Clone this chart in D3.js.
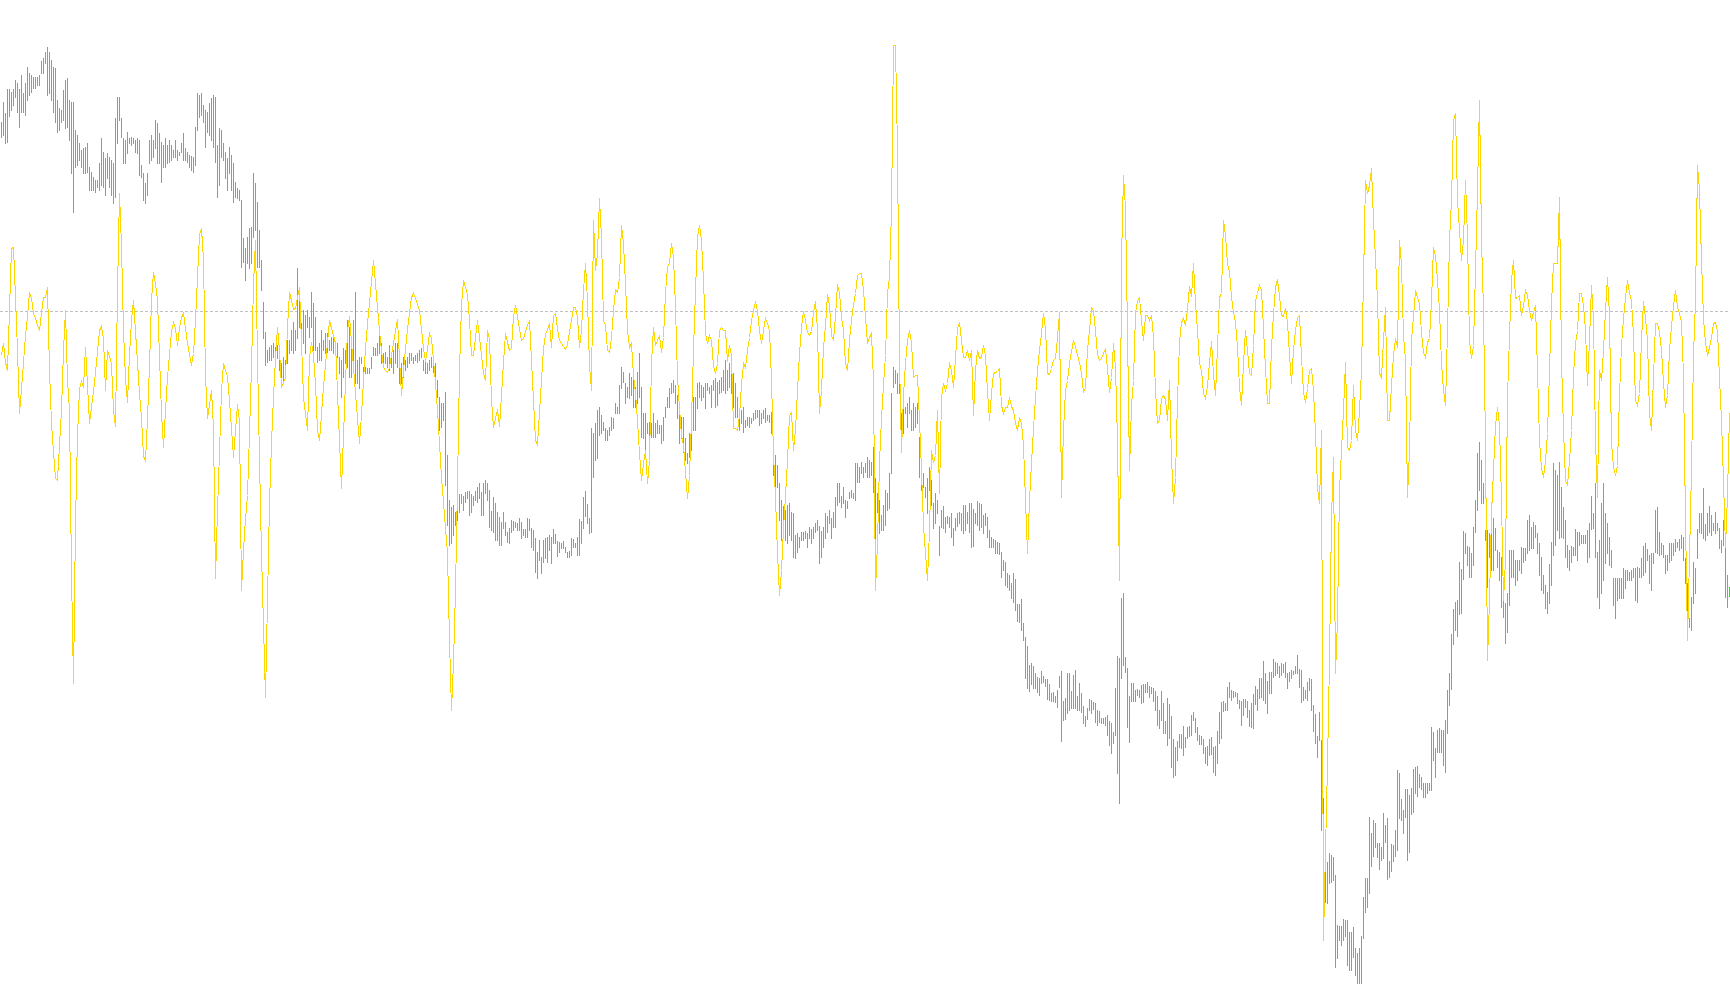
<!DOCTYPE html>
<html><head><meta charset="utf-8">
<script src="https://cdn.jsdelivr.net/npm/d3@7"></script>
<style>html,body{margin:0;padding:0;background:#fff;overflow:hidden}</style>
</head><body>
<svg id="chart" width="1730" height="1005"></svg>
<script>
// Price bars (high / low), one per bar
const high = [
878,898,887,911,911,908,911,920,917,911,925,907,917,933,927,925,923,923,923,925,
939,942,948,953,948,940,933,932,900,892,890,910,920,922,900,898,898,870,865,857,
850,852,853,857,833,828,823,820,820,837,862,848,842,847,843,840,837,882,903,903,
882,862,860,868,862,863,862,860,862,860,835,827,817,827,860,865,860,880,877,867,
858,855,862,855,860,855,850,860,850,848,857,867,852,848,845,844,843,873,907,905,
907,895,890,888,897,902,905,903,855,872,870,857,848,842,853,845,837,818,812,810,
800,762,752,763,772,773,827,817,798,770,740,698,668,650,653,655,657,653,655,643,
637,643,640,660,660,670,678,670,732,710,677,690,685,690,683,708,697,683,653,657,
670,660,667,667,660,663,663,657,657,643,640,652,650,680,673,663,680,708,640,643,
643,633,633,632,632,643,653,652,657,667,657,647,648,643,655,643,650,657,657,647,
637,643,640,643,647,647,643,645,647,650,652,640,640,637,640,643,637,637,620,603,
597,597,608,545,500,493,495,488,492,506,506,504,508,509,509,506,504,509,513,517,
508,517,520,517,510,489,503,497,488,483,478,488,478,468,472,480,479,478,477,482,
478,471,471,482,481,472,470,462,448,460,443,460,462,463,465,463,471,466,459,458,
457,459,453,448,449,462,461,457,463,481,479,503,509,496,482,572,567,577,590,593,
585,578,572,570,573,583,582,597,593,615,633,628,617,613,627,623,620,613,628,647,
613,587,587,577,578,577,587,577,580,575,575,583,593,603,612,617,620,615,605,585,
583,583,562,547,567,593,603,603,617,618,615,613,617,617,613,615,620,622,618,620,
623,630,640,630,637,640,627,617,603,587,590,593,580,583,583,582,587,590,590,590,
587,590,592,585,585,588,557,545,535,517,500,494,490,495,497,488,487,465,467,463,
468,468,469,467,473,471,473,477,480,474,469,473,487,484,490,482,488,503,517,517,
504,513,500,499,508,510,507,537,537,533,538,533,537,543,540,538,553,522,507,500,
485,495,510,507,527,607,633,630,627,637,587,593,593,597,603,590,597,593,597,563,
540,527,513,522,533,520,497,507,500,474,490,494,483,484,483,487,472,482,487,488,
487,495,495,488,497,497,491,487,499,497,496,485,487,483,470,463,461,460,458,457,
448,440,438,427,425,417,427,421,396,396,401,377,363,354,335,337,334,327,323,322,
329,324,321,321,316,307,308,304,310,324,329,299,302,327,327,309,325,330,304,317,
307,294,284,292,301,300,298,297,290,289,282,282,283,285,279,277,268,312,344,342,
402,407,343,332,304,317,317,310,311,310,315,316,316,318,314,313,312,309,304,290,
309,297,279,302,296,284,261,253,259,266,266,274,263,273,274,285,288,282,273,265,
264,261,253,254,261,263,253,254,269,288,298,299,297,313,318,310,309,308,307,300,
299,301,301,299,290,297,306,314,311,322,322,339,327,319,328,328,341,338,337,334,
337,336,338,327,328,330,329,334,345,331,330,313,310,318,322,321,295,286,264,288,
260,202,140,138,147,145,143,125,75,74,74,81,80,80,68,68,73,52,47,52,
64,103,122,122,183,167,180,177,157,157,153,187,175,182,139,156,155,170,230,227,
201,190,211,211,205,212,231,233,234,226,223,217,217,217,217,273,268,252,270,272,
270,270,280,310,327,366,391,398,400,438,431,469,467,454,453,447,473,500,547,558,
540,517,470,470,467,468,482,472,450,448,443,408,397,407,450,450,450,440,440,440,
453,452,452,480,485,473,478,475,467,457,443,425,415,408,436,458,537,530,525,538,
513,493,480,455,450,454,453,471,468,468,465,465,465,470,477,504,487,517,448,460,
497,517,487,477,463,450,422,422,422,422,422,432,430,430,428,430,432,432,433,432,
442,454,457,451,445,447,447,490,493,468,457,455,445,445,457,457,457,461,458,461,
465,463,442,417,382,403,438,432,471,487,487,512,476,487,494,485,477,488,477,472,
460,480,453,425,413];
const low = [
863,865,857,858,884,890,895,903,888,873,888,888,885,900,905,908,912,912,915,915,
927,927,937,905,907,900,888,878,868,870,878,880,872,873,860,827,788,833,835,840,
833,827,827,828,810,810,810,808,813,810,815,813,805,822,813,805,797,803,857,880,
863,837,837,847,857,855,857,848,847,825,823,800,797,805,837,840,843,852,837,837,
818,833,833,837,838,840,843,843,840,845,848,840,840,838,833,830,828,835,870,883,
885,878,853,868,865,860,853,838,803,815,843,840,822,810,827,810,798,803,802,800,
733,738,720,737,732,737,763,770,733,733,710,662,635,638,640,640,643,640,642,630,
623,620,630,637,647,650,647,650,662,673,660,657,647,673,663,673,650,650,638,640,
640,650,647,648,650,650,647,650,643,627,603,623,637,633,623,623,627,617,617,612,
637,622,627,627,627,632,645,645,645,647,637,637,637,633,630,633,627,637,633,617,
617,623,630,633,637,640,637,640,638,640,643,630,627,627,630,633,628,623,603,570,
573,580,515,475,455,457,465,475,480,488,497,490,498,502,485,488,495,500,498,502,
485,485,507,500,473,470,468,460,460,455,455,472,465,458,457,468,470,473,470,470,
462,465,463,463,470,453,450,428,422,440,427,438,442,438,450,437,457,457,444,448,
452,452,448,443,443,445,453,453,445,445,457,472,484,477,467,468,523,540,542,565,
567,570,560,560,565,570,572,587,587,587,612,618,597,603,602,605,593,593,597,603,
563,562,548,567,562,563,563,563,567,567,557,560,583,593,593,607,608,597,582,557,
562,548,540,537,543,550,570,570,592,603,600,603,592,610,607,593,610,593,595,607,
608,610,607,610,613,607,593,583,583,570,577,568,573,575,573,577,580,582,583,575,
577,582,578,580,578,567,525,510,513,480,460,465,460,457,465,460,443,442,448,453,
460,460,462,453,462,457,462,468,470,437,443,453,462,468,477,462,473,473,495,498,
493,497,483,492,502,503,502,500,518,518,527,523,528,523,523,525,508,457,488,467,
470,470,475,490,492,527,613,617,607,607,565,567,587,573,587,570,570,573,577,523,
510,513,503,487,510,495,472,477,487,445,473,472,468,477,473,463,455,470,474,477,
470,467,470,477,468,453,454,477,475,470,473,467,475,463,453,453,453,447,447,446,
423,430,415,413,410,402,398,390,379,378,370,360,322,312,309,316,312,312,308,305,
317,318,314,301,300,299,299,298,293,313,259,280,281,287,290,292,292,292,290,290,
288,277,274,281,290,287,291,278,275,278,277,277,275,265,255,247,257,265,227,197,
322,335,328,273,258,299,299,299,305,303,297,298,308,308,303,307,299,290,275,272,
280,267,267,255,262,233,223,225,240,253,252,245,253,262,264,265,280,268,260,256,
256,247,237,235,245,246,228,225,237,257,262,289,290,290,303,300,303,304,297,292,
275,285,293,283,274,273,272,296,290,302,303,300,297,287,307,307,323,325,327,323,
325,328,323,312,319,322,326,327,327,313,298,300,302,300,310,290,269,257,243,260,
170,112,98,97,117,118,120,33,42,60,55,60,64,35,30,30,43,25,17,17,
17,62,88,93,107,134,144,153,143,131,140,142,158,121,123,129,139,144,150,182,
180,167,183,140,148,186,188,207,204,213,211,203,203,207,210,210,240,223,248,248,
248,235,228,267,295,311,356,370,364,386,387,421,447,435,423,423,435,468,490,510,
497,497,460,413,443,430,430,450,433,420,393,383,357,368,395,423,423,415,420,430,
427,438,440,447,450,452,452,463,447,425,410,407,392,387,397,415,445,455,470,462,
463,462,443,433,430,438,445,445,440,455,457,457,457,438,443,471,472,443,403,392,
407,420,437,447,435,433,395,382,400,402,402,402,412,420,420,420,423,400,398,423,
423,425,428,440,417,410,437,448,447,445,446,443,427,430,438,440,445,449,453,450,
452,440,417,370,373,370,397,407,442,468,467,462,460,465,468,465,470,467,470,452,
448,455,403,393,404];
// Oscillator values (0 = reference level)
const osc = [
-44,-32,-51,-59,1,63,64,14,-39,-102,-77,-51,-24,-5,19,13,-2,-7,-14,-19,
-1,14,14,24,-59,-112,-141,-167,-169,-134,-99,-39,1,-69,-99,-262,-372,-211,-125,-77,
-70,-76,-36,-74,-112,-96,-80,-61,-40,-19,-15,-27,-79,-39,-45,-52,-99,-115,21,118,
66,-19,-67,-91,-43,-9,11,-20,-51,-82,-107,-145,-149,-107,-54,11,39,28,11,-45,
-102,-136,-99,-66,-43,-20,-11,-17,-34,-16,-6,-2,-17,-32,-43,-54,-42,-9,34,77,
83,52,-65,-107,-93,-79,-117,-267,-199,-141,-79,-52,-59,-65,-89,-117,-146,-119,-93,-109,
-279,-239,-207,-184,-122,-56,27,71,-46,-149,-242,-314,-386,-289,-192,-132,-85,-48,-16,-39,
-76,-71,-66,-16,19,11,2,3,14,24,-31,-86,-102,-119,-47,-31,-44,-72,-119,-129,
-103,-75,-53,-31,-9,-17,-24,-32,-81,-129,-177,-124,-71,-19,-5,-31,-56,-82,-107,-132,
-103,-69,-37,-12,9,30,51,28,4,-19,-39,-56,-59,-61,-56,-44,-32,-20,-8,-47,
-84,-59,-37,-18,-2,14,18,13,7,1,-18,-37,-50,-37,-22,-27,-49,-71,-99,-132,
-166,-191,-217,-242,-329,-399,-351,-279,-174,-59,6,31,24,17,-9,-44,-44,-26,-9,-26,
-44,-62,-69,-19,-27,-89,-116,-107,-98,-115,-84,-51,-22,-31,-39,-37,-5,6,-5,-17,
-29,-27,-20,-14,-9,-49,-89,-129,-133,-101,-69,-37,-23,-18,-12,-36,-4,-2,-17,-29,
-32,-35,-38,-33,-21,-9,4,4,-6,-36,-19,21,48,11,-54,-79,91,41,58,113,
74,-9,-14,-39,-41,-26,1,22,19,34,86,68,28,-19,-36,-32,-64,-82,-109,-142,
-169,-152,-139,-172,-149,-52,-16,-34,-29,-24,-41,-26,18,45,48,68,54,4,-66,-97,
-124,-134,-161,-187,-164,-109,-39,21,74,86,71,31,-22,-32,-24,-29,-55,-62,-52,-19,
-16,-19,-19,-50,-34,-44,-117,-117,-119,-104,-73,-52,-56,-39,-26,-9,1,10,0,-19,
-32,-19,-7,-12,-19,-69,-142,-186,-242,-284,-259,-217,-185,-149,-104,-101,-139,-119,-79,-42,
-16,0,-9,-21,-24,-20,-1,10,-19,-102,-79,-36,-14,17,6,-24,-29,-5,27,19,
-6,-19,-52,-59,-29,-9,7,18,36,38,38,21,-6,-32,-26,-22,-69,-279,-232,-151,
-107,-73,-44,18,34,101,266,266,161,-49,-141,-84,-52,-29,-19,-32,-66,-64,-64,-109,
-159,-214,-242,-269,-219,-139,-151,-144,-99,-182,-86,-72,-79,-72,-51,-59,-76,-46,-17,-11,
-29,-46,-46,-39,-49,-39,-104,-59,-39,-47,-46,-34,-44,-80,-109,-82,-62,-61,-60,-57,
-94,-102,-96,-96,-86,-95,-99,-112,-119,-106,-112,-134,-189,-242,-189,-152,-117,-86,-59,-39,
-22,-2,-17,-62,-63,-57,-49,-47,-26,-1,-186,-119,-79,-69,-52,-40,-29,-35,-44,-51,
-62,-81,-76,-39,-19,4,1,-19,-43,-49,-47,-42,-37,-57,-81,-66,-32,-56,-129,-269,
51,136,103,-19,-159,-94,-69,-2,11,14,-9,-29,-4,-4,-9,-4,-26,-79,-112,-109,
-87,-84,-88,-109,-69,-146,-192,-166,-89,-31,-11,-7,-14,3,25,15,48,8,-19,-52,
-59,-82,-87,-74,-51,-30,-63,-84,-36,14,18,91,76,48,40,14,-1,-11,-35,-76,
-94,-52,-19,-39,-62,-64,-34,11,18,26,21,-17,-57,-92,-92,-36,-3,24,32,16,
-4,-5,3,-11,-43,-72,-39,-19,-6,-4,-46,-81,-91,-77,-59,-57,-79,-122,-176,-192,
-119,-629,-539,-454,-349,-206,-146,-362,-309,-179,-139,-99,-51,-136,-139,-129,-74,-119,-129,-99,
-59,31,131,118,126,143,91,54,11,-62,-66,-29,4,-109,-109,-74,-44,-27,-36,71,
46,-24,-49,-186,-139,-29,-5,21,14,8,-21,-41,-46,-31,-27,11,64,56,31,1,
-52,-79,-94,-19,71,111,191,198,111,81,51,71,131,74,-29,-47,-34,41,121,211,
74,1,-132,-349,-289,-202,-159,-114,-96,-114,-189,-289,-249,-86,-24,31,51,13,14,16,
-4,6,21,16,1,-9,-1,6,-59,-129,-157,-166,-149,-122,-59,8,48,48,48,114,
-49,-119,-169,-174,-149,-119,-64,-32,-19,18,18,6,-19,-74,-29,26,-7,-129,-186,-59,
-69,-39,1,34,-4,-132,-155,-164,-154,-84,-34,-7,14,31,18,11,-24,-89,-94,-82,
-29,10,-7,-29,-102,-119,-66,-12,-12,-21,-39,-71,-96,-84,-39,-15,5,21,4,-2,
-11,-64,-209,-329,-246,-159,-44,11,146,121,51,-7,-31,-44,-36,-26,-12,-11,-19,-67,
-109,-169,-236,-184,-102];
const oscLevels = [0];

const W = 1730, H = 1005;
const n = high.length;
const svg = d3.select('#chart');
const x = d3.scaleLinear().domain([0, n - 1]).range([1.5, 1729.5]);
const yPrice = d3.scaleLinear().domain([-5, 1000]).range([H, 0]);
const yOsc = d3.scaleLinear().domain([-694, 311]).range([H, 0]);

// reference level (dashed)
svg.append('g').selectAll('line').data(oscLevels).join('line')
  .attr('x1', 0).attr('x2', W)
  .attr('y1', d => Math.round(yOsc(d)) + 0.5).attr('y2', d => Math.round(yOsc(d)) + 0.5)
  .attr('stroke', '#C0C0C0').attr('stroke-width', 1)
  .attr('stroke-dasharray', '3,2').attr('shape-rendering', 'crispEdges');

// price bars
svg.append('g').attr('shape-rendering', 'crispEdges')
  .selectAll('line').data(d3.range(n)).join('line')
  .attr('x1', i => x(i)).attr('x2', i => x(i))
  .attr('y1', i => yPrice(high[i]))
  .attr('y2', i => yPrice(low[i]) + 1)
  .attr('stroke', '#00FF00').attr('stroke-width', 1);

// oscillator line
const line = d3.line().x((d, i) => x(i)).y(d => Math.round(yOsc(d)) + 0.5);
svg.append('path').datum(osc)
  .attr('d', line)
  .attr('fill', 'none').attr('stroke', '#FFD700').attr('stroke-width', 1)
  .attr('shape-rendering', 'crispEdges');
</script>
</body></html>
